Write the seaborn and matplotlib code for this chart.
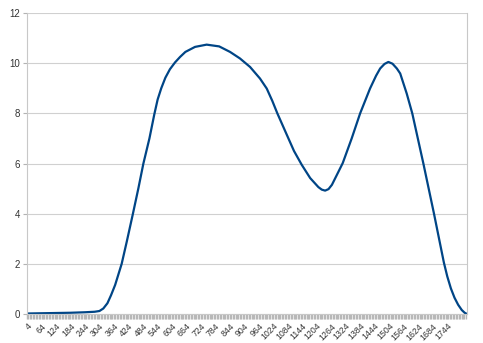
import matplotlib
matplotlib.use("Agg")
import matplotlib.pyplot as plt
from matplotlib.ticker import FixedLocator
import seaborn as sns
import pandas as pd

# Data (category value -> y)
x_vals = [4, 64, 124, 184, 244, 284, 304, 320, 337, 352, 369, 396, 417, 442, 465, 486,
          511, 531, 545, 560, 577, 596, 617, 638, 660, 700, 748, 800, 845, 886, 928,
          969, 997, 1020, 1041, 1080, 1110, 1142, 1177, 1211, 1225, 1239, 1253, 1267,
          1280, 1294, 1312, 1349, 1384, 1425, 1450, 1467, 1485, 1501, 1518, 1536, 1550,
          1577, 1600, 1646, 1690, 1711, 1731, 1745, 1760, 1775, 1790, 1805, 1817, 1827]
y_vals = [0.02, 0.03, 0.04, 0.05, 0.07, 0.09, 0.12, 0.22, 0.43, 0.75, 1.16, 2.0, 2.88,
          3.97, 5.0, 6.0, 7.0, 7.95, 8.55, 9.0, 9.42, 9.76, 10.03, 10.25, 10.45,
          10.65, 10.74, 10.67, 10.45, 10.19, 9.85, 9.39, 8.99, 8.5, 8.0, 7.15, 6.5,
          5.95, 5.42, 5.06, 4.96, 4.92, 4.98, 5.15, 5.4, 5.67, 6.02, 7.0, 8.0, 8.99,
          9.5, 9.79, 9.97, 10.05, 9.98, 9.79, 9.59, 8.79, 8.0, 6.0, 4.0, 3.0, 2.05,
          1.5, 1.02, 0.65, 0.37, 0.16, 0.05, 0.0]
tick_labels = [str(v) for v in range(4, 1745, 60)]
tick_positions = list(range(4, 1745, 60))
minor_positions = list(range(4, 1828, 6))
y_ticks = [0, 2, 4, 6, 8, 10, 12]

df = pd.DataFrame({"x": x_vals, "y": y_vals})

sns.set_style("white")
plt.rcParams['font.family'] = ['Liberation Sans', 'DejaVu Sans']

fig = plt.figure(figsize=(4.83, 3.43), dpi=100)
ax = fig.add_axes([0.056, 0.0845, 0.911, 0.8775])

sns.lineplot(data=df, x="x", y="y", ax=ax, color="#004586", linewidth=1.6)

ax.set_xlim(4, 1827)
ax.set_ylim(0, 12)
ax.set_yticks(y_ticks)
ax.set_yticklabels([str(v) for v in y_ticks], fontsize=7, color="#333333")
ax.grid(axis="y", color="#d0d0d0", linewidth=0.8)
ax.set_axisbelow(True)

ax.xaxis.set_major_locator(FixedLocator(tick_positions))
ax.xaxis.set_minor_locator(FixedLocator(minor_positions))
ax.set_xticklabels(tick_labels, rotation=45, fontsize=6.3, color="#333333",
                   ha="right", rotation_mode="anchor")
ax.tick_params(axis="x", which="both", bottom=True, length=3.5, width=1.0,
               color="#b8b8b8", pad=2)
ax.tick_params(axis="y", left=True, length=3, width=0.8, color="#b3b3b3", pad=2)

for s in ["left", "right", "top", "bottom"]:
    ax.spines[s].set_color("#c8c8c8")
    ax.spines[s].set_linewidth(0.8)
ax.spines["top"].set_visible(False)
ax.set_xlabel("")
ax.set_ylabel("")

fig.savefig("out.png", dpi=100)
